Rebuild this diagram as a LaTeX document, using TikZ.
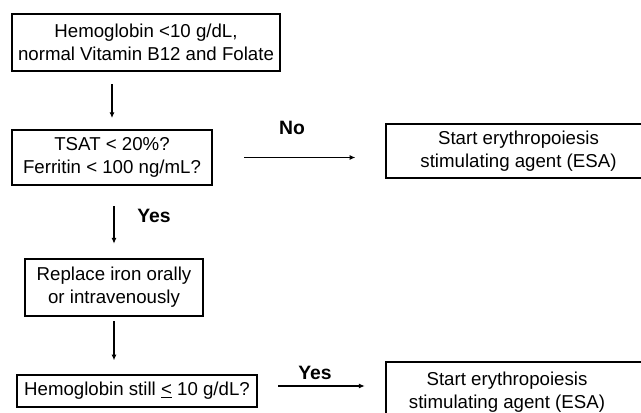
\documentclass[tikz,border=0pt]{standalone}
\usepackage{fontspec}
\setmainfont{Liberation Sans}
\usepackage{tikz}
\usetikzlibrary{arrows.meta,calc,positioning}

\begin{document}
\begin{tikzpicture}[x=0.75pt,y=-0.75pt,
        box/.style={draw=black,line width=2pt,inner sep=0pt,align=center,font=\fontsize{14}{17}\selectfont},
        txt/.style={inner sep=0pt,align=center,font=\fontsize{14}{17}\selectfont},
        lbl/.style={inner sep=0pt,font=\fontsize{14.5}{17}\selectfont\bfseries},
        arr/.style={-{Latex[length=4.3pt,width=3.8pt]},line width=0.8pt}]
        % picture frame
        \clip (0,0) rectangle (641,413);
        % Draw the boxes
        \node[box,minimum width=201pt,minimum height=42.75pt] (hemo) at (146,42.5) {Hemoglobin <10 g/dL,\\normal Vitamin B12 and Folate};
        \node[box,minimum width=150pt,minimum height=41.25pt] (tsat) at (112,157.5) {TSAT < 20\%?\\Ferritin < 100 ng/mL?};
        \node[box,minimum width=198.75pt,minimum height=40.5pt] (esaA) at (518.5,151) {Start erythropoiesis\\stimulating agent (ESA)};
        \node[box,minimum width=133.5pt,minimum height=42.75pt] (iron) at (114,287.5) {Replace iron orally\\or intravenously};
        \node[box,minimum width=180pt,minimum height=24pt] (still) at (137,391) {Hemoglobin still \underline{<} 10 g/dL?};
        \node[txt] (esaB) at (507,392) {Start erythropoiesis\\stimulating agent (ESA)};
        \draw[line width=2pt] (386,362) rectangle (660,422);
        \coordinate (esaBin) at (386,386);
        % arrows
        \draw[arr,shorten <=9pt,shorten >=8pt] (hemo.south -| tsat.north) -- (tsat.north);
        \draw[arr,shorten <=23pt,shorten >=22pt] (tsat.east) -- (tsat.east -| esaA.west);
        \draw[arr,shorten <=15pt,shorten >=10.5pt] (tsat.south -| iron.north) -- (iron.north);
        \draw[arr,shorten <=3pt,shorten >=10pt] (iron.south) -- (iron.south |- still.north);
        \draw[arr,shorten <=15pt,shorten >=16pt] (still.east |- esaBin) -- (esaBin);
        % labels
        \node[lbl] (no) at (292,128) {No};
        \node[lbl] (yesA) at (154,216) {Yes};
        \node[lbl] (yesB) at (315,373) {Yes};
\end{tikzpicture}
\end{document}
